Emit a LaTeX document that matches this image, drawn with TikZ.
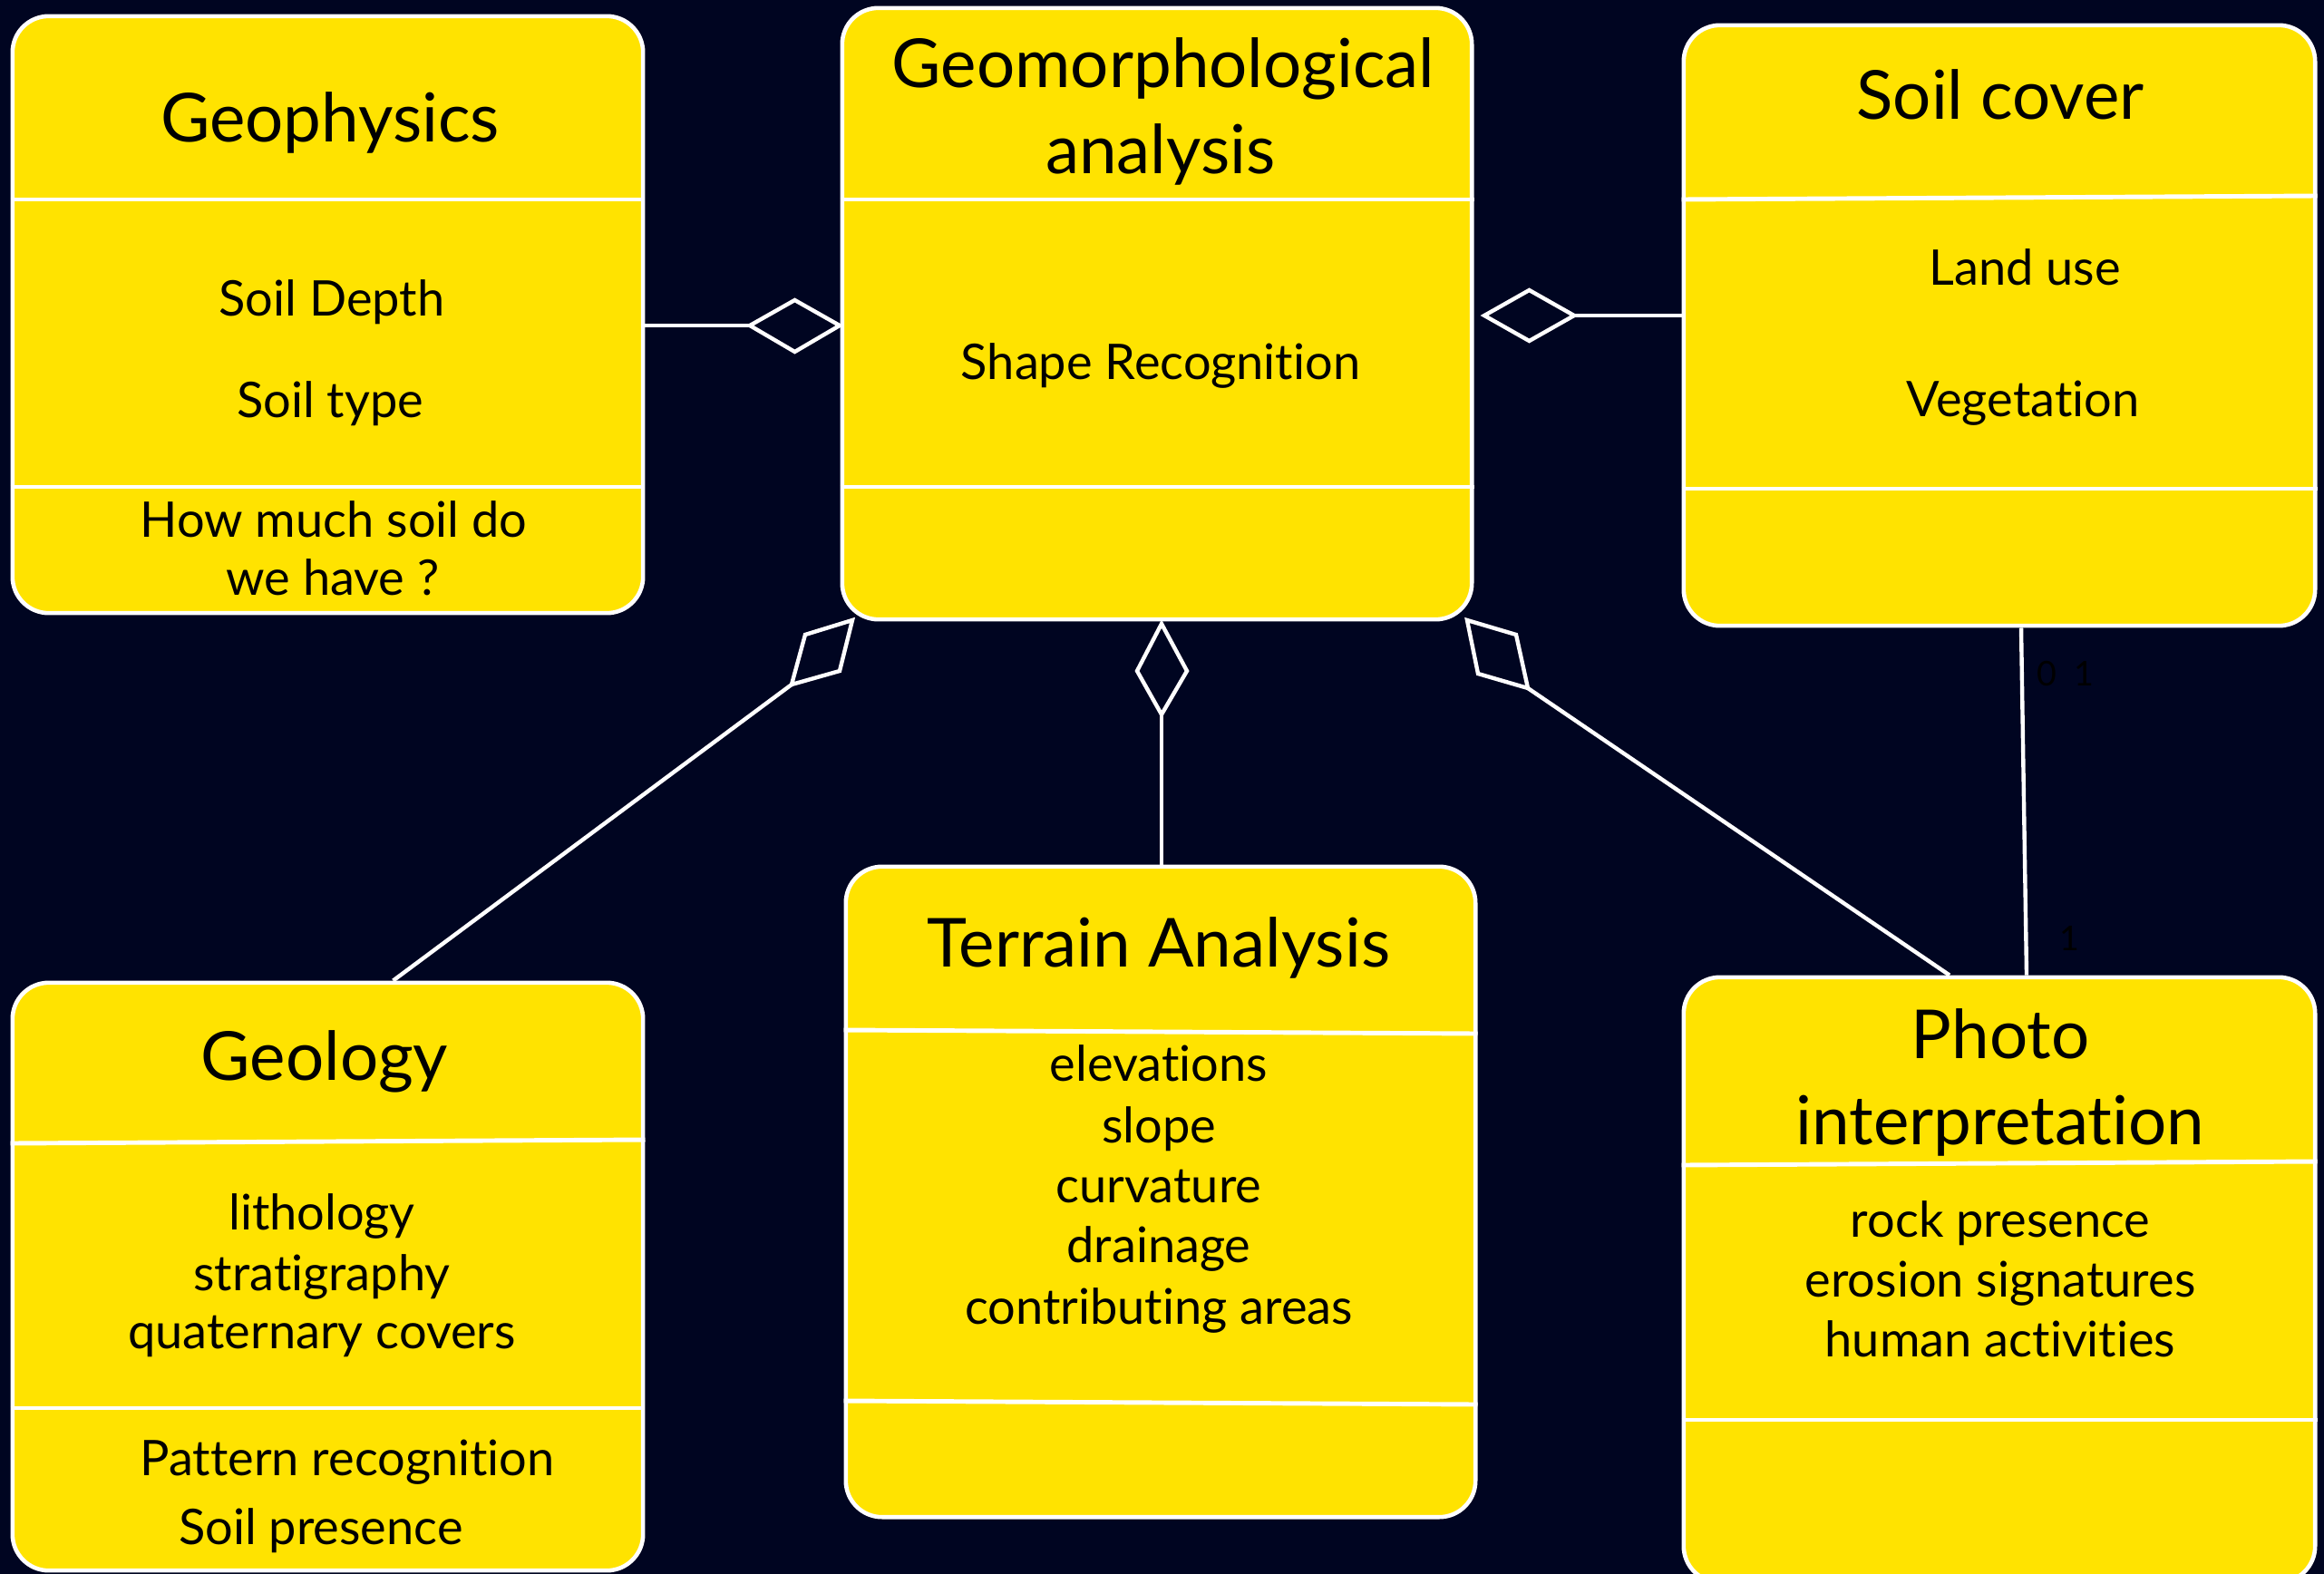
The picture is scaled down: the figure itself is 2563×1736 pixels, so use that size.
\documentclass[tikz,border=0pt]{standalone}
\usepackage{fontspec}
\setmainfont{Lato}[Ligatures=NoCommon]
\definecolor{bg}{RGB}{0,5,33}
\definecolor{umly}{RGB}{255,227,0}
\begin{document}
\begin{tikzpicture}[x=0.01cm,y=-0.01cm,
  umlbox/.style={draw=white, fill=umly, line width=1.3pt, rounded corners=0.4cm, inner sep=0pt},
  divider/.style={draw=white, line width=1.4pt},
  conn/.style={draw=white, line width=1.25pt},
  diam/.style={draw=white, fill=bg, line width=1.25pt, line join=miter},
  ttl/.style={font=\fontsize{21.2}{26}\selectfont, text=black, inner sep=0pt, anchor=base},
  itm/.style={font=\fontsize{15.4}{19}\selectfont, text=black, inner sep=0pt, anchor=base},
  mult/.style={font=\fontsize{10.7}{12}\selectfont, text=black, inner sep=0pt, anchor=base}]
\fill[bg] (0,0) rectangle (2563,1736);
\useasboundingbox (0,0) rectangle (2563,1736);
\clip (0,0) rectangle (2563,1736);

% ---------- boxes ----------
\node[umlbox, minimum width=6.95cm, minimum height=6.58cm] (geoph) at (361.5,347) {};
\node[umlbox, minimum width=6.94cm, minimum height=6.74cm] (geom) at (1276,346) {};
\node[umlbox, minimum width=6.96cm, minimum height=6.62cm] (soil) at (2205,359) {};
\node[umlbox, minimum width=6.95cm, minimum height=6.48cm] (geol) at (361.5,1408) {};
\node[umlbox, minimum width=6.94cm, minimum height=7.17cm] (terr) at (1280,1314.5) {};
\node[umlbox, minimum width=6.96cm, minimum height=6.67cm] (photo) at (2205,1411.5) {};

% ---------- compartment dividers ----------
\draw[divider] (geoph.west |- 0,220) -- (geoph.east |- 0,220);
\draw[divider] (geoph.west |- 0,537) -- (geoph.east |- 0,537);
\draw[divider] (geom.west |- 0,220) -- (geom.east |- 0,220);
\draw[divider] (geom.west |- 0,537) -- (geom.east |- 0,537);
\draw[divider] (soil.west |- 0,220) -- (soil.east |- 0,216);
\draw[divider] (soil.west |- 0,539) -- (soil.east |- 0,539);
\draw[divider] (geol.west |- 0,1261) -- (geol.east |- 0,1257);
\draw[divider] (geol.west |- 0,1553) -- (geol.east |- 0,1553);
\draw[divider] (terr.west |- 0,1136) -- (terr.east |- 0,1140);
\draw[divider] (terr.west |- 0,1545) -- (terr.east |- 0,1549);
\draw[divider] (photo.west |- 0,1285) -- (photo.east |- 0,1281);
\draw[divider] (photo.west |- 0,1566) -- (photo.east |- 0,1566);

% ---------- texts ----------
\node[ttl] (t1) at (364,156) {Geophysics};
\node[itm] (t1a) at (366,348) {Soil Depth};
\node[itm] (t1b) at (364,460) {Soil type};
\node[itm] (t1c) at (368,592) {How much soil do};
\node[itm] (t1d) at (367,656) {we have ?};

\node[ttl] (t2) at (1283,97) {Geomorphological};
\node[ttl] (t2b) at (1280,191) {analysis};
\node[itm] (t2a) at (1280,418) {Shape Recognition};

\node[ttl] (t3) at (2206,131) {Soil cover};
\node[itm] (t3a) at (2233,314) {Land use};
\node[itm] (t3b) at (2231,459) {Vegetation};

\node[ttl] (t4) at (358,1191) {Geology};
\node[itm] (t4a) at (355,1356) {lithology};
\node[itm] (t4b) at (355,1423) {stratigraphy};
\node[itm] (t4c) at (355,1487) {quaternary covers};
\node[itm] (t4d) at (383,1627) {Pattern recognition};
\node[itm] (t4e) at (354,1703) {Soil presence};

\node[ttl] (t5) at (1278,1066) {Terrain Analysis};
\node[itm] (t5a) at (1278,1192) {elevations};
\node[itm] (t5b) at (1278,1260) {slope};
\node[itm] (t5c) at (1278,1326) {curvature};
\node[itm] (t5d) at (1278,1392) {drainage};
\node[itm] (t5e) at (1278,1460) {contributing areas};

\node[ttl] (t6) at (2206,1167) {Photo};
\node[ttl] (t6b) at (2206,1262) {interpretation};
\node[itm] (t6a) at (2206,1364) {rock presence};
\node[itm] (t6c) at (2206,1430) {erosion signatures};
\node[itm] (t6d) at (2206,1496) {human activities};

% ---------- aggregation diamonds ----------
\coordinate (dLa) at (827,359);   \coordinate (dLb) at (926,359);
\coordinate (dLt) at (876.5,331); \coordinate (dLd) at (876.5,388);
\coordinate (dRa) at (1637,348);  \coordinate (dRb) at (1736,348);
\coordinate (dRt) at (1686.5,320);\coordinate (dRd) at (1686.5,376);
\coordinate (dMa) at (1281,688);  \coordinate (dMl) at (1254,740);
\coordinate (dMb) at (1281,788);  \coordinate (dMr) at (1309,740);
\coordinate (dBLa) at (940,684);  \coordinate (dBLl) at (888,700);
\coordinate (dBLb) at (873,755);  \coordinate (dBLr) at (926,740);
\coordinate (dBRa) at (1618,684); \coordinate (dBRr) at (1672,700);
\coordinate (dBRb) at (1685,759); \coordinate (dBRl) at (1630,743);

% ---------- connectors ----------
\draw[conn] (geoph.east |- dLa) -- (dLa);
\draw[conn] (dRb) -- (dRb -| soil.west);
\draw[conn] (dMb) -- (dMb |- terr.north);
\draw[conn] (dBLb) -- ([xshift=0.72cm]geol.north);
\draw[conn] (dBRb) -- ([xshift=-0.55cm]photo.north);
\draw[conn] ([xshift=0.24cm]soil.south) -- ([xshift=0.30cm]photo.north);

\draw[diam] (dLa) -- (dLt) -- (dLb) -- (dLd) -- cycle;
\draw[diam] (dRa) -- (dRt) -- (dRb) -- (dRd) -- cycle;
\draw[diam] (dMa) -- (dMl) -- (dMb) -- (dMr) -- cycle;
\draw[diam] (dBLa) -- (dBLl) -- (dBLb) -- (dBLr) -- cycle;
\draw[diam] (dBRa) -- (dBRr) -- (dBRb) -- (dBRl) -- cycle;

% ---------- multiplicities ----------
\node[mult] (m1) at (2278,756) {0\enspace 1};
\node[mult] (m2) at (2282,1048) {1};
\end{tikzpicture}
\end{document}
